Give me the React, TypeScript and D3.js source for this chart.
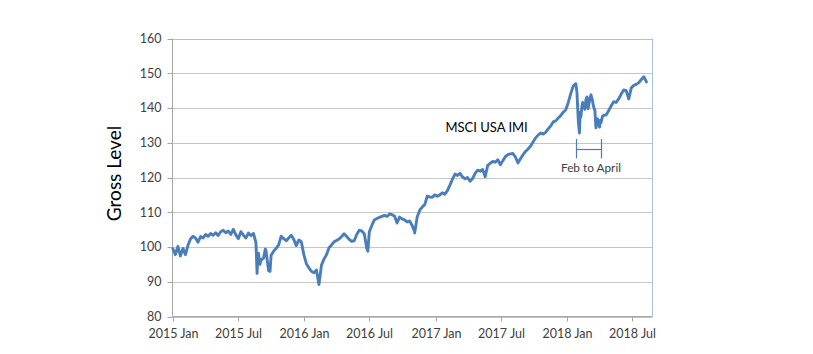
import React from "react";
import * as d3 from "d3";

// ---- data ----
const seriesName = "MSCI USA IMI";
const seriesStart = "2015-01-02"; // weekly (Friday) observations
const weeklyValues = [
  99.5, 97.8, 100.2, 97.4, 99.6, 97.8, 100.5, 102.3, 103.1, 102.6,
  101.4, 103, 102.6, 103.6, 103.1, 103.9, 103.4, 104.1, 103.3, 104.4,
  104.8, 104.1, 104.6, 103.6, 105.1, 103.5, 102.4, 104.4, 103.4, 102.6,
  104, 103.3, 103.9, 101.2, 98.2, 96.2, 96.8, 98.8, 93.2, 97.6,
  98.8, 99.6, 100.6, 103.1, 102.4, 101.8, 102.6, 103.4, 102.2, 100.4,
  102, 101.5, 97.8, 95.2, 94, 93, 92.6, 93.4, 89.2, 94.8,
  96.5, 97.8, 99.8, 100.6, 101.5, 101.9, 102.3, 103, 103.8, 103,
  102.2, 101.6, 101.8, 103.6, 104.8, 104.6, 103.8, 99.6, 104.4, 106.2,
  107.8, 108.2, 108.5, 108.8, 109.1, 108.8, 109.5, 109.3, 108.9, 106.9,
  108.6, 108.1, 107.8, 107.2, 107.5, 106.2, 104.4, 108.6, 110.6, 111.5,
  112.2, 114.6, 114.4, 114.3, 115, 114.6, 115, 115.6, 115.2, 116.2,
  117.8, 119.5, 121, 120.6, 121.2, 120.2, 119.6, 120, 118.9, 119.7,
  121.2, 122.1, 121.8, 122.3, 120.2, 123.5, 124.1, 124.6, 124.4, 125.1,
  123.7, 124.8, 126, 126.6, 126.8, 126.9, 125.9, 124.2, 125.4, 126.5,
  127.5, 128.2, 129, 130.2, 131.4, 132.2, 132.8, 132.5, 133, 134,
  134.8, 136, 136.3, 137.1, 137.8, 138.8, 139.5, 141.6, 144.2, 146.4,
  147, 136, 137.5, 141.2, 142.4, 140.4, 143.8, 140.5, 134.3, 136,
  135.8, 137.9, 138, 139.2, 140.6, 141.8, 141.6, 142.6, 144, 145.2,
  145, 142.6, 145.8, 146.5, 146.8, 147.3, 148.2, 149, 147.5,
];
// mid-week readings in the most volatile stretches
const midweekDates = [
  "2015-08-24", "2015-08-26", "2015-09-01", "2015-09-16", "2015-09-29",
  "2016-06-27", "2016-11-04",
  "2018-01-29", "2018-02-05", "2018-02-07", "2018-02-12", "2018-02-14",
  "2018-02-20", "2018-02-26", "2018-03-01", "2018-03-06", "2018-03-13",
  "2018-03-20", "2018-03-22", "2018-03-27", "2018-03-29", "2018-04-02",
  "2018-04-04", "2018-04-10",
];
const midweekValues = [
  92.4, 96.8, 95.0, 99.4, 93.0,
  98.8, 104.0,
  144.5, 132.8, 138.8, 140.6, 141.6,
  139.6, 143.2, 139.8, 142.6, 142.2,
  139.2, 135.5, 136.9, 136.5, 134.5,
  136.4, 137.6,
];

const yTickValues = [80, 90, 100, 110, 120, 130, 140, 150, 160];
const xTickDates = [
  "2015-01-01", "2015-07-01", "2016-01-01", "2016-07-01",
  "2017-01-01", "2017-07-01", "2018-01-01", "2018-07-01",
];
const xTickLabels = [
  "2015 Jan", "2015 Jul", "2016 Jan", "2016 Jul",
  "2017 Jan", "2017 Jul", "2018 Jan", "2018 Jul",
];
const axisDomainDates = ["2015-01-01", "2018-08-27"];
const yDomain = [80, 160];
const yAxisTitle = "Gross Level";
const bracketLabel = "Feb to April";
const bracketDates = ["2018-01-26", "2018-04-05"];
const bracketValues = [125.5, 128.1, 131.1]; // low, middle, high
const seriesLabelAt = { date: "2017-05-23", value: 133.0 };

// ---- layout ----
const W = 813;
const H = 354;
const left = 172.5;
const right = 652.5;
const top = 38.5;
const bottom = 316.5;

const FONT = "Lato, 'Open Sans', sans-serif";
const LINE = "#4a7ebb";

export default function App() {
  const parse = d3.timeParse("%Y-%m-%d");
  const start = parse(seriesStart) as Date;
  const weekly = weeklyValues.map((v, i) => ({
    date: d3.timeWeek.offset(start, i),
    value: v,
  }));
  const mid = midweekDates.map((d, i) => ({
    date: parse(d) as Date,
    value: midweekValues[i],
  }));
  const data = [...weekly, ...mid].sort(
    (a, b) => a.date.getTime() - b.date.getTime()
  );

  const x = d3
    .scaleTime()
    .domain(axisDomainDates.map((d) => parse(d) as Date))
    .range([left, right]);
  const y = d3.scaleLinear().domain(yDomain).range([bottom, top]);

  const line = d3
    .line<{ date: Date; value: number }>()
    .x((d) => x(d.date))
    .y((d) => y(d.value));

  const bx0 = Math.round(x(parse(bracketDates[0]) as Date)) + 0.5;
  const bx1 = Math.round(x(parse(bracketDates[1]) as Date)) + 0.5;
  const byLow = y(bracketValues[0]);
  const byMid = Math.round(y(bracketValues[1])) + 0.5;
  const byHigh = y(bracketValues[2]);

  return (
    <svg
      width={W}
      height={H}
      style={{ position: "absolute", left: 0, top: 0, background: "#fff" }}
      fontFamily={FONT}
    >
      <rect x={0} y={0} width={W} height={H} fill="#fff" />
      {/* gridlines */}
      {yTickValues.map((v) => (
        <line
          key={v}
          x1={left}
          x2={right}
          y1={Math.round(y(v)) + 0.5}
          y2={Math.round(y(v)) + 0.5}
          stroke={v === 160 ? "#a9c1de" : "#c6c6c6"}
          strokeWidth={1}
        />
      ))}
      {/* plot border right */}
      <line x1={right} x2={right} y1={top} y2={bottom} stroke="#a9c1de" strokeWidth={1} />
      {/* y axis */}
      <line x1={left} x2={left} y1={top} y2={bottom} stroke="#a6a6a6" strokeWidth={1} />
      {yTickValues.map((v) => (
        <g key={"yt" + v}>
          <line
            x1={left - 5}
            x2={left}
            y1={Math.round(y(v)) + 0.5}
            y2={Math.round(y(v)) + 0.5}
            stroke="#a6a6a6"
          />
          <text
            x={left - 11}
            y={y(v)}
            dy="0.35em"
            textAnchor="end"
            fontSize={12.5}
            fill="#404040"
          >
            {v}
          </text>
        </g>
      ))}
      {/* x axis */}
      <line x1={left} x2={right} y1={bottom} y2={bottom} stroke="#a6a6a6" strokeWidth={1} />
      {xTickDates.map((d, i) => {
        const xx = Math.round(x(parse(d) as Date)) + 0.5;
        return (
          <g key={d}>
            <line x1={xx} x2={xx} y1={bottom} y2={bottom + 5} stroke="#a6a6a6" />
            <text
              x={xx}
              y={bottom + 21}
              textAnchor="middle"
              fontSize={12.5}
              fill="#404040"
            >
              {xTickLabels[i]}
            </text>
          </g>
        );
      })}
      {/* y axis title */}
      <text
        transform={`translate(121,${(top + bottom) / 2 - 4}) rotate(-90)`}
        textAnchor="middle"
        fontSize={19}
        fill="#000"
      >
        {yAxisTitle}
      </text>
      {/* series */}
      <path
        d={line(data) || ""}
        fill="none"
        stroke={LINE}
        strokeWidth={2.9}
        strokeLinejoin="round"
        strokeLinecap="round"
      />
      {/* series label */}
      <text
        x={x(parse(seriesLabelAt.date) as Date)}
        y={y(seriesLabelAt.value)}
        textAnchor="middle"
        fontSize={13}
        fill="#000"
      >
        {seriesName}
      </text>
      {/* bracket */}
      <g stroke={LINE} strokeWidth={1.2} fill="none">
        <line x1={bx0} x2={bx0} y1={byHigh} y2={byLow} />
        <line x1={bx1} x2={bx1} y1={byHigh} y2={byLow} />
        <line x1={bx0} x2={bx1} y1={byMid} y2={byMid} />
      </g>
      <text
        x={(bx0 + bx1) / 2 + 2}
        y={byLow + 14}
        textAnchor="middle"
        fontSize={11.8}
        fill="#404040"
      >
        {bracketLabel}
      </text>
    </svg>
  );
}
